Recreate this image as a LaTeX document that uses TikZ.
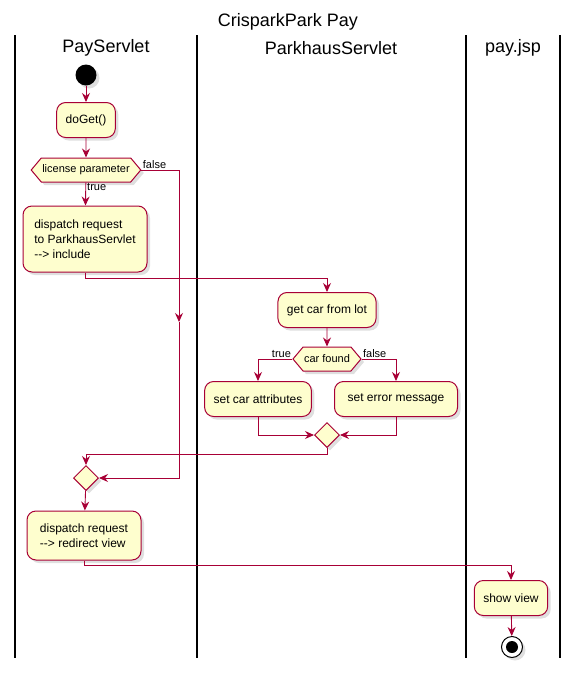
\documentclass[tikz,border=0pt]{standalone}
\usepackage{fontspec}
\setmainfont{Liberation Sans}
\usetikzlibrary{arrows.meta,shapes.geometric,shapes.symbols,shadows}
\definecolor{umlred}{HTML}{A80036}
\definecolor{umlfill}{HTML}{FEFECE}

\begin{document}
\begin{tikzpicture}[x=1pt, y=-1pt,
	every node/.style={font=\fontsize{12}{15}\selectfont},
	flow/.style={draw=umlred, line width=0.9pt, -{Stealth[length=9pt, width=8pt, inset=3pt]}},
	activity/.style={draw=umlred, fill=umlfill, line width=1pt, rounded corners=9pt, inner xsep=9pt, inner ysep=7pt, minimum height=35pt, drop shadow={opacity=0.25, shadow xshift=3pt, shadow yshift=-3pt}},
	choice/.style={draw=umlred, fill=umlfill, line width=1pt, signal, signal to=east and west, signal pointer angle=100, inner xsep=1pt, minimum height=24pt, font=\fontsize{11}{13}\selectfont, drop shadow={opacity=0.25, shadow xshift=3pt, shadow yshift=-3pt}},
	merge/.style={draw=umlred, fill=umlfill, line width=1pt, diamond, minimum size=25pt, inner sep=0pt, drop shadow={opacity=0.25, shadow xshift=3pt, shadow yshift=-3pt}},
	lane/.style={line width=1.5pt},
	guard/.style={font=\fontsize{11}{13}\selectfont, inner sep=1pt}]
		\useasboundingbox (0,0) rectangle (577,673);
		% title and swimlanes
		\node (title) at (288,22) {\fontsize{18}{20}\selectfont CrisparkPark Pay};
		\draw[lane] (15,35) -- (15,658);
		\draw[lane] (197,35) -- (197,658);
		\draw[lane] (466,35) -- (466,658);
		\draw[lane] (560,35) -- (560,658);
		\node (paylane) at (106,48) {\fontsize{18}{20}\selectfont PayServlet};
		\node (parklane) at (331,48) {\fontsize{18}{20}\selectfont ParkhausServlet};
		\node (jsplane) at (513,48) {\fontsize{18}{20}\selectfont pay.jsp};
		% PayServlet
		\node[circle, fill=black, minimum size=21pt, inner sep=0pt, drop shadow={opacity=0.25, shadow xshift=3pt, shadow yshift=-3pt}] (start) at (86,75) {};
		\node[activity] (doget) at (86,120) {doGet()};
		\node[choice] (license) at (86,170) {license parameter};
		\node[activity, align=left, minimum width=124pt, minimum height=66pt] (include) at (85,239) {dispatch request\\to ParkhausServlet\\-{}-> include};
		\node[merge] (paymerge) at (86,478) {};
		\node[activity, align=left, minimum width=114pt, minimum height=49pt] (redirect) at (84,535.5) {dispatch request\\-{}-> redirect view};
		\coordinate (falsemid) at (179,322);
		% ParkhausServlet
		\node[activity] (getcar) at (327,310) {get car from lot};
		\node[choice] (carfound) at (327,359) {car found};
		\node[activity] (setattr) at (258,399) {set car attributes};
		\node[activity, minimum width=123pt] (seterror) at (396,399) {set error message};
		\node[merge] (parkmerge) at (327,435) {};
		% pay.jsp
		\node[activity] (showview) at (511,598) {show view};
		\node[circle, draw, fill=white, line width=1pt, minimum size=21pt, inner sep=0pt,
			path picture={\fill[black] (path picture bounding box.center) circle (6pt);},
			drop shadow={opacity=0.25, shadow xshift=3pt, shadow yshift=-3pt}] (stop) at (512,647) {};
		% connectors
		\draw[flow] (start) -- (doget);
		\draw[flow] (doget) -- (license);
		\draw[flow] (license) -- node[guard, right, pos=0.2] {true} (include);
		\draw[flow] (license.east) node[guard, above right] {false} -| (falsemid);
		\draw[flow] (falsemid) |- (paymerge.east);
		\draw[flow] (include.south) -- ++(0,6) -| (getcar.north);
		\draw[flow] (getcar) -- (carfound);
		\draw[flow] (carfound.west) node[guard, above left] {true} -| (setattr.north);
		\draw[flow] (carfound.east) node[guard, above right] {false} -| (seterror.north);
		\draw[flow] (setattr.south) |- (parkmerge.west);
		\draw[flow] (seterror.south) |- (parkmerge.east);
		\draw[flow] (parkmerge.south) -- ++(0,6) -| (paymerge.north);
		\draw[flow] (paymerge) -- (redirect);
		\draw[flow] (redirect.south) -- ++(0,5) -| (showview.north);
		\draw[flow] (showview) -- (stop);
\end{tikzpicture}
\end{document}
